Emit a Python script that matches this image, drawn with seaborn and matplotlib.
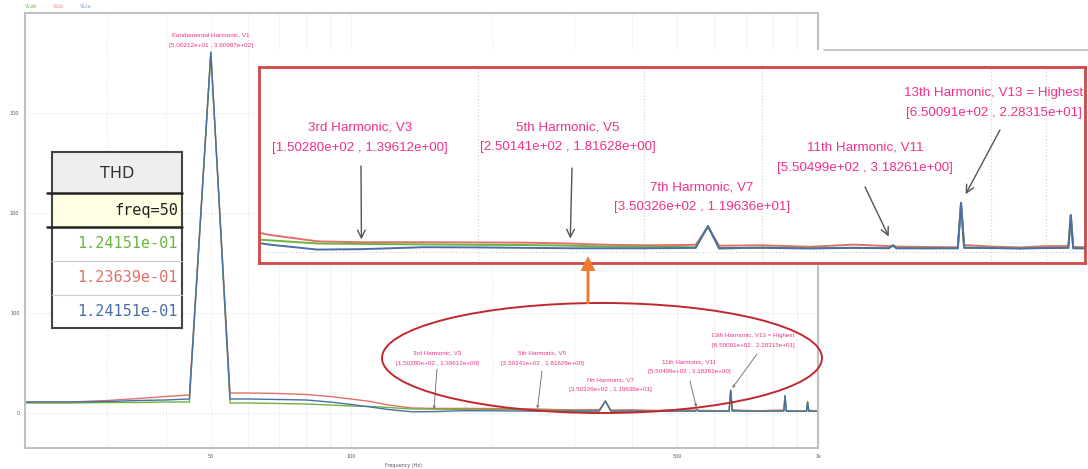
import matplotlib
matplotlib.use("Agg")
import matplotlib.pyplot as plt
from matplotlib.patches import Ellipse, Rectangle, FancyArrow
from matplotlib.ticker import FixedLocator, NullFormatter
import pandas as pd
import seaborn as sns

# ---- spectrum data (Hz, volts) ----
freq = [20, 25, 30, 35, 40, 45, 50.0212, 55, 60, 70, 80, 90, 100, 110, 120, 135,
        150.280, 175, 200, 225, 250.141, 275, 300, 325, 340, 350.326, 360, 400,
        450, 500, 545, 550.499, 555, 600, 645, 650.091, 655, 700, 750, 800, 845,
        850, 855, 900, 945, 950, 955, 1000]
v_ab = [10, 10, 10.5, 10.5, 11, 11, 360.2, 10, 10, 9.5, 9, 8, 7, 6.5, 5.5, 4,
        3.8, 3.6, 3.4, 3.3, 3.0, 2.6, 2.5, 2.4, 2.2, 12.2, 1.6, 2.2,
        1.9, 2.0, 1.9, 3.0, 1.9, 1.8, 1.9, 22.6, 2.2, 2.0, 1.8, 2.0, 2.1,
        17.0, 1.9, 1.8, 1.8, 11.0, 1.9, 1.8]
v_bc = [11, 11, 12.5, 14.5, 16.5, 18, 360.5, 20, 20, 19.5, 18.5, 16.5, 14, 11.5, 8, 5,
        4.6, 4.6, 4.5, 4.4, 4.0, 3.4, 3.2, 3.3, 3.4, 11.8, 3.0, 3.2,
        2.5, 3.5, 2.8, 3.0, 2.6, 2.4, 2.3, 22.5, 3.3, 2.6, 2.2, 2.8, 2.9,
        17.0, 2.4, 2.3, 2.2, 11.0, 2.6, 2.3]
v_ca = [11, 11, 11.5, 12.5, 13, 14, 360.987, 14, 14, 13.5, 13, 11, 8.5, 6, 3.5, 1.2,
        1.39612, 2.3, 2.2, 2.0, 1.81628, 1.8, 1.8, 1.9, 2.0, 11.9636, 1.9, 2.0,
        1.7, 2.0, 1.8, 3.18261, 1.8, 1.8, 1.8, 22.8315, 2.0, 1.9, 1.7, 1.9, 2.0,
        17.2, 1.8, 1.7, 1.7, 11.0, 1.8, 1.7]
phases = ["VLab", "VLbc", "VLca"]

# fundamental and marked harmonics
fund_freq, fund_value = 50.0212, 360.987
harm_names = ["3rd Harmonic, V3", "5th Harmonic, V5", "7th Harmonic, V7",
              "11th Harmonic, V11", "13th Harmonic, V13 = Highest"]
harm_freq = [150.280, 250.141, 350.326, 550.499, 650.091]
harm_value = [1.39612, 1.81628, 11.9636, 3.18261, 22.8315]

# THD table
thd_header = "THD"
thd_freq_label = "freq=50"
thd_values = ["1.24151e-01", "1.23639e-01", "1.24151e-01"]

# ---- styling ----
colors = {"VLab": "#6db33f", "VLbc": "#e0706b", "VLca": "#4a6fa5"}
legend_colors = {"VLab": "#7ab648", "VLbc": "#e88a8a", "VLca": "#7a9ad0"}
pink = "#f0308a"
label_font = ["Liberation Sans", "DejaVu Sans"]

sns.set_theme(style="white")
plt.rcParams["font.family"] = ["DejaVu Sans"]

W, H = 1088, 469
fig = plt.figure(figsize=(W / 100, H / 100), dpi=100)
fig.patch.set_facecolor("white")


def px_rect(x0, y0, x1, y1):
    return [x0 / W, 1 - y1 / H, (x1 - x0) / W, (y1 - y0) / H]


df = pd.DataFrame({
    "freq": freq * 3,
    "value": v_ab + v_bc + v_ca,
    "phase": [p for p in phases for _ in freq],
})
draw_order = ["VLbc", "VLab", "VLca"]

# ---- main spectrum ----
ax = fig.add_axes(px_rect(25, 13, 818, 448), zorder=0)
sns.lineplot(data=df, x="freq", y="value", hue="phase", hue_order=draw_order,
             palette=colors, linewidth=1.0, legend=False, ax=ax, sort=True,
             estimator=None)
ax.set_xscale("log")
ax.set_xlim(20, 1000)
ax.set_ylim(-35, 400)
ax.set_xticks([50, 100, 500, 1000])
ax.set_xticklabels(["50", "100", "500", "1k"])
ax.xaxis.set_minor_locator(FixedLocator([30, 40, 60, 70, 80, 90, 200, 300, 400,
                                         600, 700, 800, 900]))
ax.xaxis.set_minor_formatter(NullFormatter())
ax.set_yticks([0, 100, 200, 300])
ax.tick_params(axis="both", which="both", length=0, labelsize=3.5,
               labelcolor="#555555", pad=4)
ax.grid(True, which="both", axis="x", linestyle=(0, (1, 2)), color="#d8d8d8", lw=0.6)
ax.grid(True, which="major", axis="y", linestyle=(0, (1, 2)), color="#d8d8d8", lw=0.6)
for s in ax.spines.values():
    s.set_color("#c0c0c0")
    s.set_linewidth(1.5)
ax.set_xlabel("")
ax.set_ylabel("")

# ---- overlay in pixel space ----
ov = fig.add_axes([0, 0, 1, 1], zorder=5)
ov.set_xlim(0, W)
ov.set_ylim(H, 0)
ov.axis("off")

# legend labels
for name, x in zip(phases, [25, 53, 80]):
    ov.text(x, 6, name, color=legend_colors[name], fontsize=3.5, va="center",
            ha="left")
ov.text(403, 466, "Frequency (Hz)", fontsize=3.5, color="#555555",
        ha="center", va="center")

# fundamental label
ov.text(211, 35, "Fundamental Harmonic, V1", color=pink, fontsize=4.6,
        family=label_font, ha="center", va="center")
ov.text(211, 45, f"[{fund_freq:.5e} , {fund_value:.5e}]", color=pink,
        fontsize=4.6, family=label_font, ha="center", va="center")

# small labels inside the ellipse
small_pos = [(437, 353), (542, 353), (610, 380), (689, 362), (753, 335)]
small_arrow = [(437, 369), (542, 371), None, (690, 381), (757, 354)]
for name, f, v, (tx, ty), a in zip(harm_names, harm_freq, harm_value,
                                   small_pos, small_arrow):
    ov.text(tx, ty, name, color=pink, fontsize=4.5, family=label_font,
            ha="center", va="center")
    ov.text(tx, ty + 10, f"[{f:.5e} , {v:.5e}]", color=pink, fontsize=4.5,
            family=label_font, ha="center", va="center")
    if a is not None:
        ax.annotate("", xy=(f, v), xycoords="data", xytext=a,
                    textcoords=ov.transData,
                    arrowprops=dict(arrowstyle="->", color="#666666", lw=0.6,
                                    shrinkA=0, shrinkB=2, mutation_scale=4))

ov.add_patch(Ellipse((602, 358), 440, 110, fill=False, edgecolor="#c0282d",
                     lw=1.4))

# ---- zoomed view of the harmonics ----
ov.add_patch(Rectangle((255, 50), W - 255, 215, facecolor="white",
                       edgecolor="none", zorder=0))
ov.plot([824, W], [50, 50], color="#bdbdbd", lw=1.2)

ax2 = fig.add_axes(px_rect(259, 67, 1085, 263), zorder=6)
sns.lineplot(data=df, x="freq", y="value", hue="phase", hue_order=draw_order,
             palette=colors, linewidth=1.4, legend=False, ax=ax2, sort=True,
             estimator=None)
ax2.set_xscale("log")
ax2.set_xlim(117, 880)
ax2.set_ylim(-5, 85.6)
ax2.set_xticks([200, 300, 400, 700, 800])
ax2.xaxis.set_minor_locator(FixedLocator([]))
ax2.set_yticks([0])
ax2.tick_params(axis="both", which="both", length=0, labelbottom=False,
                labelleft=False)
ax2.grid(True, axis="both", linestyle=(0, (1, 2)), color="#cfcfcf", lw=0.8)
ax2.set_xlabel("")
ax2.set_ylabel("")
for s in ax2.spines.values():
    s.set_color("#d04848")
    s.set_linewidth(2)

ov2 = fig.add_axes([0, 0, 1, 1], zorder=7)
ov2.set_xlim(0, W)
ov2.set_ylim(H, 0)
ov2.axis("off")

big_pos = [(360, 128), (568, 127), (702, 187), (865, 148), (994, 93)]
big_arrow = [(361, 166), (572, 168), None, (865, 187), (1000, 130)]
for name, f, v, (tx, ty), a in zip(harm_names, harm_freq, harm_value,
                                   big_pos, big_arrow):
    ov2.text(tx, ty, name, color=pink, fontsize=9.6, family=label_font,
             ha="center", va="center")
    ov2.text(tx, ty + 20, f"[{f:.5e} , {v:.5e}]", color=pink, fontsize=9.6,
             family=label_font, ha="center", va="center")
    if a is not None:
        ax2.annotate("", xy=(f, v), xycoords="data", xytext=a,
                     textcoords=ov2.transData,
                     arrowprops=dict(arrowstyle="->", color="#555555", lw=1.0,
                                     shrinkA=0, shrinkB=7, mutation_scale=14))

# arrow from the ellipse up to the zoomed view
ov2.add_patch(FancyArrow(588, 304, 0, -48, width=3, head_width=15,
                         head_length=15, length_includes_head=True,
                         color="#ed7d31", lw=0))

# ---- THD table ----
tx0, tx1 = 52, 182
ov2.add_patch(Rectangle((tx0, 152), tx1 - tx0, 41, facecolor="#eeeeee",
                        edgecolor="none"))
ov2.add_patch(Rectangle((tx0, 193), tx1 - tx0, 34, facecolor="#fffde2",
                        edgecolor="none"))
ov2.add_patch(Rectangle((tx0, 227), tx1 - tx0, 101, facecolor="white",
                        edgecolor="none"))
for yy in (261, 295):
    ov2.plot([tx0, tx1], [yy, yy], color="#cccccc", lw=0.8)
ov2.add_patch(Rectangle((tx0, 152), tx1 - tx0, 176, fill=False,
                        edgecolor="#444444", lw=1.5))
for yy in (193, 227):
    ov2.plot([47, tx1], [yy, yy], color="#222222", lw=1.8)
ov2.text((tx0 + tx1) / 2, 173, thd_header, fontsize=11.5, color="#333333",
         ha="center", va="center")
ov2.text(178, 210, thd_freq_label, fontsize=11, family="DejaVu Sans Mono",
         color="#222222", ha="right", va="center")
for val, name, yy in zip(thd_values, phases, [244, 278, 312]):
    ov2.text(178, yy, val, fontsize=11, family="DejaVu Sans Mono",
             color=colors[name], ha="right", va="center")

fig.savefig("out.png", dpi=100, facecolor="white")
